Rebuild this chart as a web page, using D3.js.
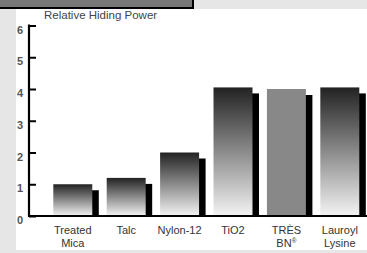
<!DOCTYPE html>
<html>
<head>
<meta charset="utf-8">
<script src="https://cdn.jsdelivr.net/npm/d3@7"></script>
<style>
  body { margin: 0; background: #e6e6e6; }
  svg { display: block; font-family: "Liberation Sans", Arial, sans-serif; }
</style>
</head>
<body>
<div class="canvas"></div>
<script>
// Data
const labels = [["Treated", "Mica"], ["Talc"], ["Nylon-12"], ["TiO2"], ["TRÈS", "BN"], ["Lauroyl", "Lysine"]]
const names = ["Treated Mica", "Talc", "Nylon-12", "TiO2", "TRÈS BN", "Lauroyl Lysine"]
const values = [1.0, 1.2, 2.0, 4.05, 4.0, 4.05]
const yTicks = [0, 1, 2, 3, 4, 5, 6]

const wWidth = 367
const wHeight = 253

const svg = d3.select('.canvas')
    .append('svg')
    .attr("width", wWidth)
    .attr("height", wHeight)

// Frame: light gray surround, white panel, dark header box
svg.append('rect').attr('width', wWidth).attr('height', wHeight).attr('fill', '#e6e6e6')
svg.append('rect').attr('x', 16).attr('y', 9).attr('width', wWidth - 16).attr('height', 241).attr('fill', '#fff')
svg.append('rect').attr('x', -2).attr('y', -2).attr('width', 195).attr('height', 10)
    .attr('fill', '#777').attr('stroke', '#000').attr('stroke-width', 2)

// Scales
const yScale = d3.scaleLinear()
    .domain([0, 6])
    .range([216, 25.5])

const xScale = d3.scaleBand()
    .domain(names)
    .range([53.3, 359.3])
    .paddingInner(0.27)
    .paddingOuter(0)

// Gradient for the bars
const grad = svg.append('defs').append('linearGradient')
    .attr('id', 'barGrad')
    .attr('x1', 0).attr('y1', 0).attr('x2', 0).attr('y2', 1)
grad.append('stop').attr('offset', '0%').attr('stop-color', '#222')
grad.append('stop').attr('offset', '100%').attr('stop-color', '#f4f4f4')

const graph = svg.append('g')
const bars = names.map((n, i) => ({name: n, value: values[i], label: labels[i]}))

// Shadows
graph.selectAll('rect.shadow')
    .data(bars)
    .enter()
    .append('rect')
    .attr('class', 'shadow')
    .attr('x', d => xScale(d.name) + 6.5)
    .attr('y', d => yScale(d.value) + 6)
    .attr('width', xScale.bandwidth())
    .attr('height', d => yScale(0) - yScale(d.value) - 6)
    .attr('fill', '#000')

// Bars
graph.selectAll('rect.bar')
    .data(bars)
    .enter()
    .append('rect')
    .attr('class', 'bar')
    .attr('x', d => xScale(d.name))
    .attr('y', d => yScale(d.value))
    .attr('width', xScale.bandwidth())
    .attr('height', d => yScale(0) - yScale(d.value))
    .attr('fill', d => d.name === "TRÈS BN" ? '#888' : 'url(#barGrad)')

// Axes
const yAxis = d3.axisRight(yScale).tickValues(yTicks).tickSize(7).tickFormat('')
const yAxisGroup = graph.append('g').attr('transform', 'translate(29, 0)').call(yAxis)
yAxisGroup.select('.domain').remove()
yAxisGroup.selectAll('line').attr('stroke', '#000').attr('stroke-width', 2)
graph.append('line')
    .attr('x1', 29).attr('x2', 29)
    .attr('y1', yScale(6) - 1).attr('y2', yScale(0) + 1)
    .attr('stroke', '#000').attr('stroke-width', 2.2)
graph.append('line')
    .attr('x1', 28).attr('x2', wWidth)
    .attr('y1', yScale(0)).attr('y2', yScale(0))
    .attr('stroke', '#000').attr('stroke-width', 2)

graph.selectAll('text.ytick')
    .data(yTicks)
    .enter()
    .append('text')
    .attr('class', 'ytick')
    .attr('x', 23)
    .attr('y', d => yScale(d) + 8)
    .attr('text-anchor', 'end')
    .attr('font-size', 11)
    .attr('font-weight', 'bold')
    .attr('fill', '#555')
    .text(d => d)

// Title
svg.append('text')
    .attr('x', 44)
    .attr('y', 19)
    .attr('font-size', 11.5)
    .attr('fill', '#444')
    .text("Relative Hiding Power")

// Category labels, one text per line
bars.forEach(d => {
    const cx = xScale(d.name) + xScale.bandwidth() / 2
    d.label.forEach((line, j) => {
        const t = graph.append('text')
            .attr('class', 'cat')
            .attr('x', cx)
            .attr('y', 234 + j * 13)
            .attr('text-anchor', 'middle')
            .attr('font-size', 11)
            .attr('fill', '#333')
            .text(line)
        if (line === "BN") {
            t.append('tspan').attr('dy', -4).attr('font-size', 6.5).text("®")
        }
    })
})

// Bottom strip that cuts the second label row
svg.append('rect').attr('x', 16).attr('y', 250).attr('width', wWidth).attr('height', 3).attr('fill', '#e6e6e6')
</script>
</body>
</html>
